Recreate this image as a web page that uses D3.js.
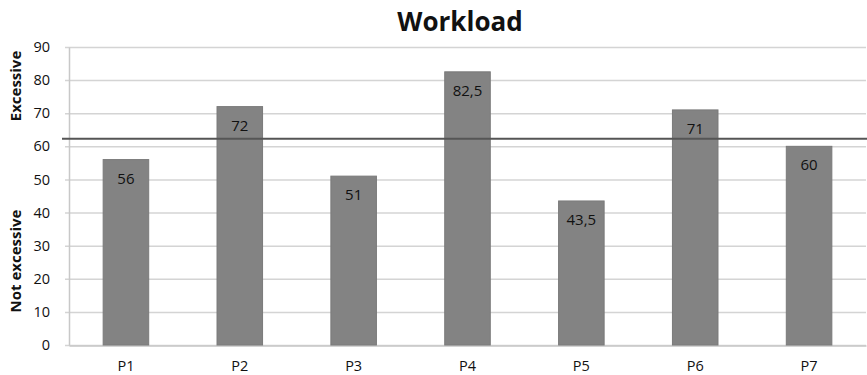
<!DOCTYPE html>
<html>
<head>
<meta charset="utf-8">
<script src="https://cdn.jsdelivr.net/npm/d3@7"></script>
<style>
  html, body { margin: 0; padding: 0; background: #fff; }
  svg { display: block; font-family: "Open Sans", Lato, sans-serif; }
</style>
</head>
<body>
<svg id="chart" width="867" height="375"></svg>
<script>
// Workload scores per participant
const participants = ["P1", "P2", "P3", "P4", "P5", "P6", "P7"];
const workload = [56, 72, 51, 82.5, 43.5, 71, 60];
const valueLabels = ["56", "72", "51", "82,5", "43,5", "71", "60"];
const yTicks = [0, 10, 20, 30, 40, 50, 60, 70, 80, 90];
const threshold = 62.3;
const titleText = "Workload";
const upperZoneLabel = "Excessive";
const lowerZoneLabel = "Not excessive";

const svg = d3.select("#chart");
const margin = { top: 47, right: 1, bottom: 30, left: 69 };
const W = 867, H = 375;

const x = d3.scaleBand()
  .domain(participants)
  .range([margin.left, W - margin.right])
  .paddingInner(0.6)
  .paddingOuter(0.3);

const y = d3.scaleLinear()
  .domain([0, 90])
  .range([H - margin.bottom, margin.top]);

// horizontal gridlines
svg.append("g")
  .selectAll("line")
  .data(yTicks)
  .join("line")
  .attr("x1", margin.left - 4)
  .attr("x2", W - margin.right)
  .attr("y1", d => y(d) + 0.5)
  .attr("y2", d => y(d) + 0.5)
  .attr("stroke", "#d4d4d4")
  .attr("stroke-width", 1.5);

// y axis
const yAxis = svg.append("g")
  .attr("transform", `translate(${margin.left},0)`)
  .call(d3.axisLeft(y).tickValues(yTicks).tickSize(0).tickPadding(19));
yAxis.select(".domain").attr("stroke", "#c8c8c8").attr("stroke-width", 1.5);
yAxis.selectAll("text")
  .attr("font-size", 14.5)
  .attr("fill", "#111")
  .attr("font-family", "'Open Sans', sans-serif");

// x axis
const xAxis = svg.append("g")
  .attr("transform", `translate(0,${y(0) + 0.5})`)
  .call(d3.axisBottom(x).tickSize(0).tickPadding(15));
xAxis.select(".domain").attr("stroke", "#c8c8c8").attr("stroke-width", 1.5);
xAxis.selectAll("text")
  .attr("font-size", 14.5)
  .attr("fill", "#111")
  .attr("font-family", "'Open Sans', sans-serif");

// bars
svg.append("g")
  .selectAll("rect")
  .data(participants)
  .join("rect")
  .attr("x", d => x(d))
  .attr("width", x.bandwidth())
  .attr("y", (d, i) => y(workload[i]))
  .attr("height", (d, i) => y(0) - y(workload[i]))
  .attr("fill", "#838383")
  .attr("stroke", "#7a7a7a")
  .attr("stroke-width", 1);

// threshold line between the two zones
svg.append("line")
  .attr("x1", margin.left - 7)
  .attr("x2", W)
  .attr("y1", y(threshold))
  .attr("y2", y(threshold))
  .attr("stroke", "#555")
  .attr("stroke-width", 2);

// value labels inside the bars
svg.append("g")
  .selectAll("text")
  .data(participants)
  .join("text")
  .attr("x", d => x(d) + x.bandwidth() / 2)
  .attr("y", (d, i) => y(workload[i]) + 24)
  .attr("text-anchor", "middle")
  .attr("font-size", 15)
  .attr("fill", "#111")
  .text((d, i) => valueLabels[i]);

// title
svg.append("text")
  .attr("x", 460)
  .attr("y", 31)
  .attr("text-anchor", "middle")
  .attr("font-size", 26)
  .attr("font-weight", "bold")
  .attr("fill", "#111")
  .text(titleText);

// zone labels on the left
svg.append("text")
  .attr("transform", `translate(21,86) rotate(-90)`)
  .attr("text-anchor", "middle")
  .attr("font-size", 15)
  .attr("font-weight", "bold")
  .attr("fill", "#111")
  .text(upperZoneLabel);

svg.append("text")
  .attr("transform", `translate(21,261) rotate(-90)`)
  .attr("text-anchor", "middle")
  .attr("font-size", 15)
  .attr("font-weight", "bold")
  .attr("fill", "#111")
  .text(lowerZoneLabel);
</script>
</body>
</html>
